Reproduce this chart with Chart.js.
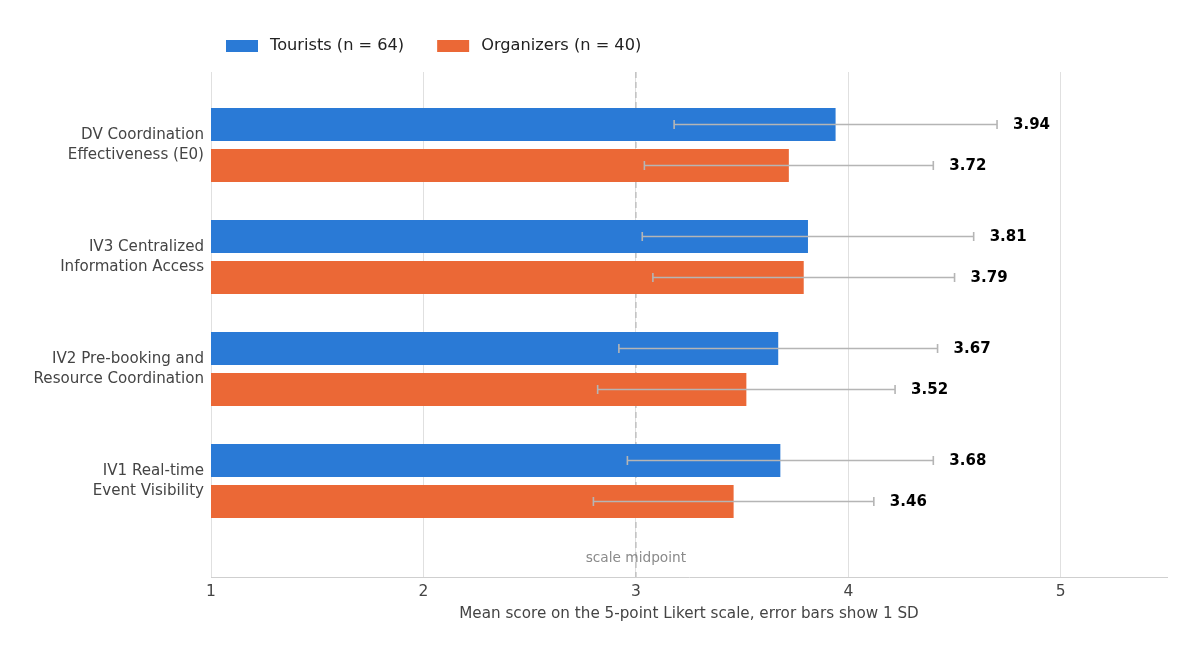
<!DOCTYPE html>
<html>
<head>
<meta charset="utf-8">
<script src="https://cdn.jsdelivr.net/npm/chart.js@4/dist/chart.umd.min.js"></script>
<style>
  html, body { margin: 0; padding: 0; background: #fff; }
  #wrap { width: 1200px; height: 656px; }
</style>
</head>
<body>
<div id="wrap"><canvas id="myChart" width="1200" height="656"></canvas></div>
<script>
// data
var categories = [
  ['DV Coordination', 'Effectiveness (E0)'],
  ['IV3 Centralized', 'Information Access'],
  ['IV2 Pre-booking and', 'Resource Coordination'],
  ['IV1 Real-time', 'Event Visibility']
];
var touristMeans = [3.94, 3.81, 3.67, 3.68];
var touristSD = [0.76, 0.78, 0.75, 0.72];
var organizerMeans = [3.72, 3.79, 3.52, 3.46];
var organizerSD = [0.68, 0.71, 0.70, 0.66];
var xTicks = [1, 2, 3, 4, 5];
var midpoint = 3;

var FONT = "'DejaVu Sans', sans-serif";

function toPoints(vals) {
  return vals.map(function (v, i) { return { x: v, y: i }; });
}

// error bars + value labels
const errorBars = {
  id: 'errorBars',
  afterDatasetsDraw(chart) {
    const ctx = chart.ctx;
    const xs = chart.scales.x;
    ctx.save();
    chart.data.datasets.forEach(function (ds, di) {
      const meta = chart.getDatasetMeta(di);
      meta.data.forEach(function (bar, i) {
        const m = ds.data[i].x, sd = ds.sd[i];
        const lo = xs.getPixelForValue(m - sd);
        const hi = xs.getPixelForValue(m + sd);
        const y = bar.y;
        ctx.strokeStyle = '#b5b5b5';
        ctx.lineWidth = 1.6;
        ctx.beginPath();
        ctx.moveTo(lo, y); ctx.lineTo(hi, y);
        ctx.moveTo(lo, y - 4.5); ctx.lineTo(lo, y + 4.5);
        ctx.moveTo(hi, y - 4.5); ctx.lineTo(hi, y + 4.5);
        ctx.stroke();
        ctx.fillStyle = '#000';
        ctx.font = 'bold 15px ' + FONT;
        ctx.textAlign = 'left';
        ctx.textBaseline = 'middle';
        ctx.fillText(m.toFixed(2), hi + 16, y + 0.5);
      });
    });
    ctx.restore();
  }
};

// midpoint dashed line
const midLine = {
  id: 'midLine',
  beforeDatasetsDraw(chart) {
    const ctx = chart.ctx;
    const a = chart.chartArea;
    const x = chart.scales.x.getPixelForValue(midpoint);
    ctx.save();
    ctx.strokeStyle = '#bdbdbd';
    ctx.lineWidth = 1.4;
    ctx.setLineDash([6, 4]);
    ctx.beginPath();
    ctx.moveTo(x, a.top); ctx.lineTo(x, a.bottom);
    ctx.stroke();
    ctx.setLineDash([]);
    ctx.fillStyle = '#8a8a8a';
    ctx.font = '13.7px ' + FONT;
    ctx.textAlign = 'center';
    ctx.textBaseline = 'middle';
    ctx.fillText('scale midpoint', x, a.bottom - 19);
    ctx.restore();
  }
};

// legend
const topLegend = {
  id: 'topLegend',
  afterDraw(chart) {
    const ctx = chart.ctx;
    let x = 226;
    const y = 46;
    ctx.save();
    ctx.font = '16.2px ' + FONT;
    ctx.textBaseline = 'middle';
    ctx.textAlign = 'left';
    chart.data.datasets.forEach(function (ds) {
      ctx.fillStyle = ds.backgroundColor;
      ctx.fillRect(x, y - 6, 32, 12);
      ctx.fillStyle = '#222';
      ctx.fillText(ds.label, x + 44, y);
      x += 44 + ctx.measureText(ds.label).width + 33;
    });
    ctx.restore();
  }
};

const data = {
  datasets: [{
    label: 'Tourists (n = 64)',
    data: toPoints(touristMeans),
    sd: touristSD,
    backgroundColor: '#2a7ad6',
    categoryPercentage: 0.732,
    barPercentage: 0.805
  }, {
    label: 'Organizers (n = 40)',
    data: toPoints(organizerMeans),
    sd: organizerSD,
    backgroundColor: '#eb6836',
    categoryPercentage: 0.732,
    barPercentage: 0.805
  }]
};

const config = {
  type: 'bar',
  data,
  options: {
    indexAxis: 'y',
    responsive: false,
    animation: false,
    layout: { padding: { top: 72, right: 33, left: 0, bottom: 0 } },
    plugins: {
      legend: { display: false },
      tooltip: { enabled: false }
    },
    scales: {
      x: {
        type: 'linear',
        min: 1,
        max: 5.5,
        afterBuildTicks: function (s) { s.ticks = xTicks.map(function (v) { return { value: v }; }); },
        afterFit: function (s) { s.height = 79; },
        grid: { color: '#e0e0e0', lineWidth: 1, drawTicks: false },
        border: { display: true, color: '#cfcfcf', width: 1 },
        ticks: { padding: 6, color: '#444', font: { family: FONT, size: 15.5 } },
        title: {
          display: true,
          text: 'Mean score on the 5-point Likert scale, error bars show 1 SD',
          color: '#444',
          font: { family: FONT, size: 15.2 },
          padding: { top: 4, bottom: 33 }
        }
      },
      y: {
        type: 'linear',
        reverse: true,
        offset: false,
        min: -0.652,
        max: 3.857,
        afterBuildTicks: function (s) { s.ticks = categories.map(function (c, i) { return { value: i }; }); },
        afterFit: function (s) { s.width = 211; },
        grid: { display: false, drawTicks: false, offset: false },
        border: { display: false },
        ticks: {
          padding: 7,
          color: '#444',
          font: { family: FONT, size: 15.1, lineHeight: 1.3 },
          callback: function (v) { return categories[v] || ''; }
        }
      }
    }
  },
  plugins: [midLine, errorBars, topLegend]
};

const myChart = new Chart(document.getElementById('myChart'), config);
</script>
</body>
</html>
